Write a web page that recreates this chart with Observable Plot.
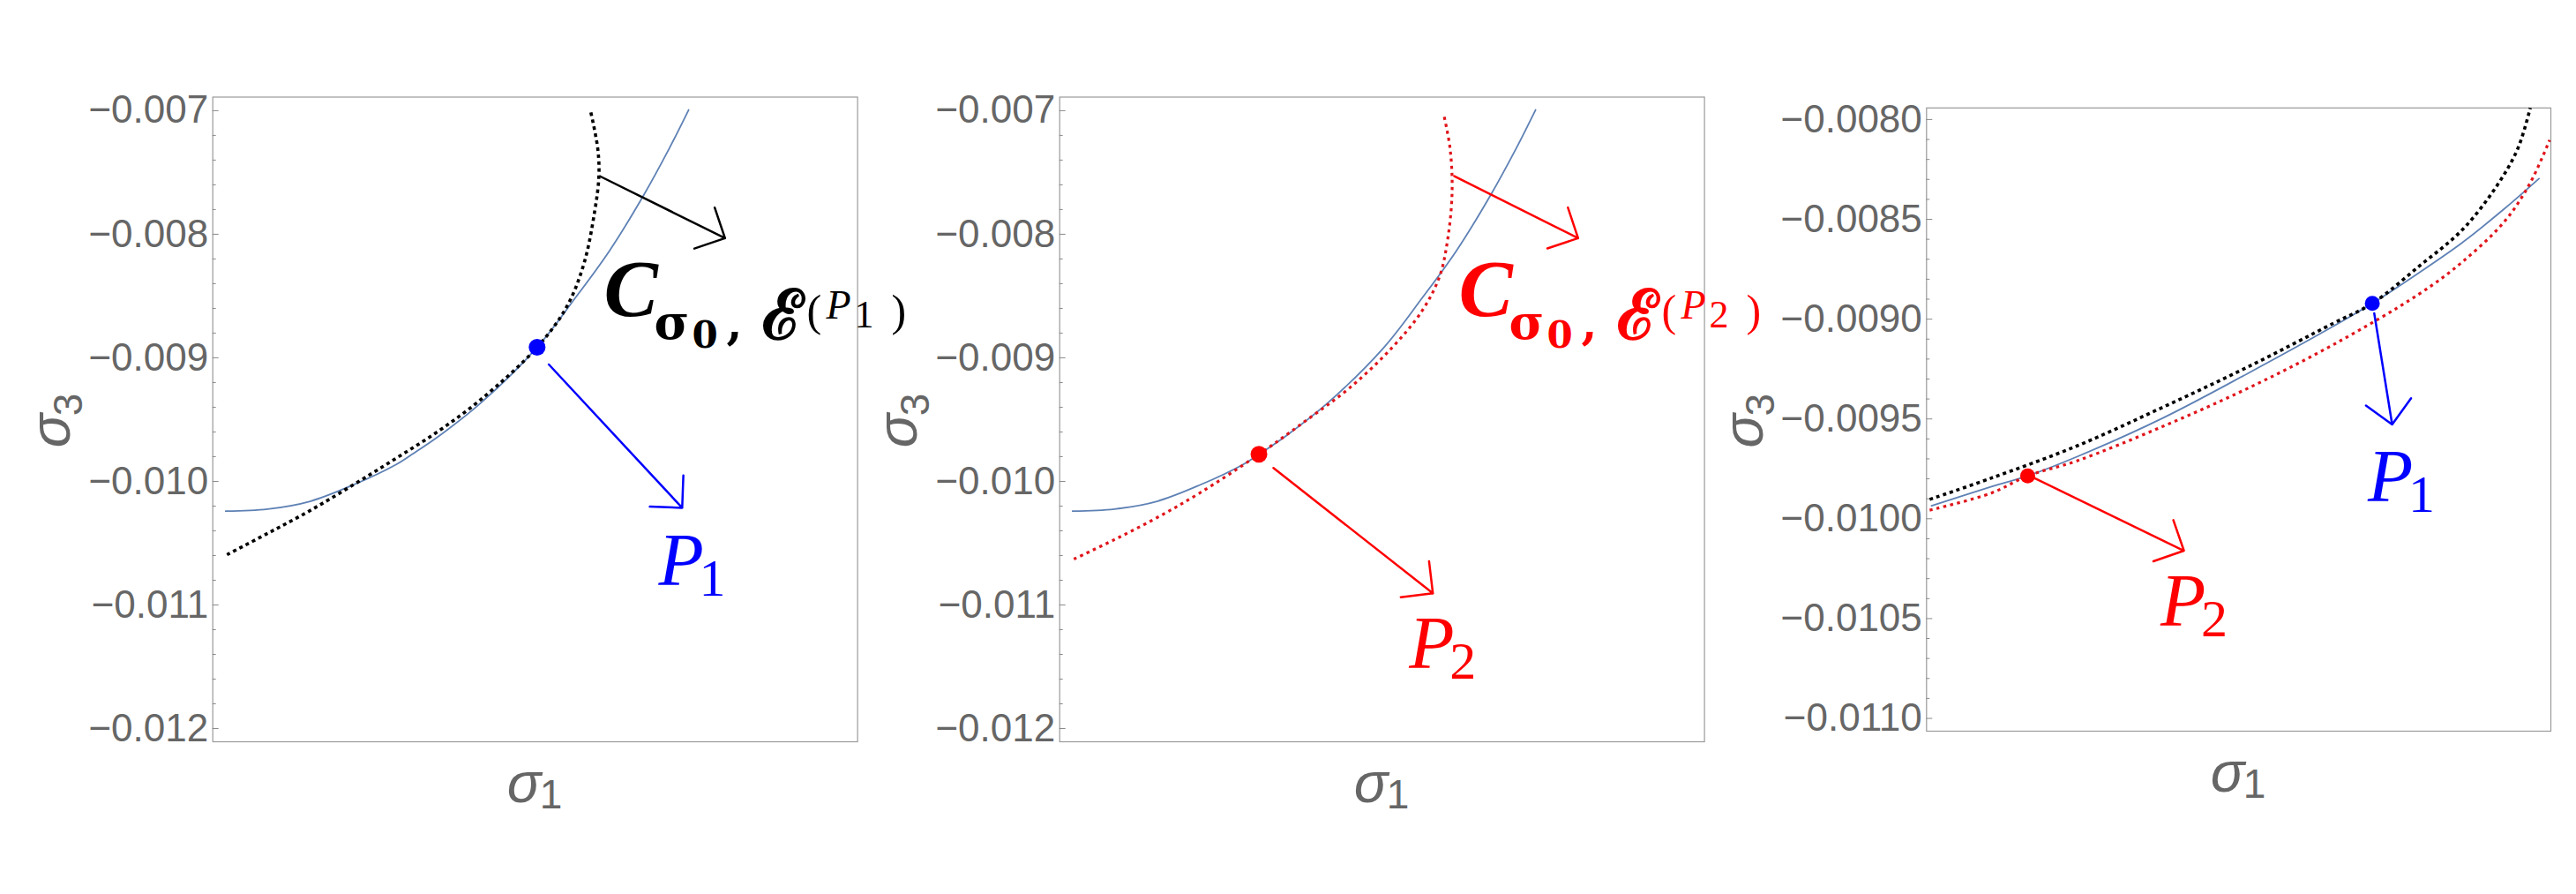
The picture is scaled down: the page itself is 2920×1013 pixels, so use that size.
<!DOCTYPE html>
<html>
<head>
<meta charset="utf-8">
<script src="https://cdn.jsdelivr.net/npm/d3@7"></script>
<script src="https://cdn.jsdelivr.net/npm/@observablehq/plot@0.6"></script>
<style>
html, body { margin: 0; padding: 0; background: #fff; }
#wrap { position: relative; width: 2920px; height: 1013px; overflow: hidden; background: #fff; }
#wrap svg { position: absolute; top: 0; overflow: visible; }
</style>
</head>
<body>
<div id="wrap"></div>
<script>
// ---------------- DATA ----------------
// sigma1 has no tick labels in the original: x is expressed as a fraction of each panel's range.
// Panels 1 & 2: sigma3 ticks
const majorTicksA = [-0.007, -0.008, -0.009, -0.010, -0.011, -0.012];
const minorTicksA = [-0.0072, -0.0074, -0.0076, -0.0078, -0.0082, -0.0084, -0.0086, -0.0088,
  -0.0092, -0.0094, -0.0096, -0.0098, -0.0102, -0.0104, -0.0106, -0.0108,
  -0.0112, -0.0114, -0.0116, -0.0118];
// Panel 3: sigma3 ticks
const majorTicksB = [-0.0080, -0.0085, -0.0090, -0.0095, -0.0100, -0.0105, -0.0110];
const minorTicksB = [-0.0081, -0.0082, -0.0083, -0.0084, -0.0086, -0.0087, -0.0088, -0.0089,
  -0.0091, -0.0092, -0.0093, -0.0094, -0.0096, -0.0097, -0.0098, -0.0099,
  -0.0101, -0.0102, -0.0103, -0.0104, -0.0106, -0.0107, -0.0108, -0.0109];

// Yield curve (panels 1 & 2)
const yieldCurveA = [[0.020, -0.010241], [0.085, -0.010224], [0.151, -0.010161], [0.2175, -0.010029],
  [0.284, -0.009864], [0.309, -0.009781], [0.350, -0.009636], [0.416, -0.009364], [0.503, -0.008915],
  [0.562, -0.008517], [0.615, -0.008136], [0.668, -0.007686], [0.708, -0.007305], [0.738, -0.006994]];
// C_{σ0, ε(P1)} (panel 1, black dotted)
const curveP1A = [[0.022, -0.010593], [0.085, -0.010421], [0.151, -0.010236], [0.2175, -0.010029],
  [0.284, -0.009814], [0.350, -0.009593], [0.416, -0.009336], [0.503, -0.008915], [0.549, -0.008586],
  [0.5755, -0.008240], [0.592, -0.007824], [0.5988, -0.007531], [0.597, -0.007305], [0.5855, -0.006994]];
// C_{σ0, ε(P2)} (panel 2, red dotted)
const curveP2A = [[0.022, -0.010629], [0.085, -0.010471], [0.151, -0.010293], [0.2175, -0.010093],
  [0.309, -0.009781], [0.383, -0.009504], [0.4495, -0.009244], [0.516, -0.008915], [0.562, -0.008620],
  [0.589, -0.008344], [0.602, -0.008032], [0.6086, -0.007651], [0.6054, -0.007305], [0.5955, -0.007028]];

// Panel 3 (zoomed)
const yieldCurveB = [[0.008, -0.009935], [0.104, -0.009839], [0.162, -0.009785], [0.241, -0.009689],
  [0.378, -0.009496], [0.515, -0.009271], [0.652, -0.009035], [0.714, -0.008921], [0.789, -0.008767],
  [0.858, -0.008617], [0.926, -0.008446], [0.981, -0.008296]];
const curveP1B = [[0.005, -0.009903], [0.104, -0.009796], [0.241, -0.009635], [0.378, -0.009442],
  [0.515, -0.009239], [0.652, -0.009020], [0.714, -0.008921], [0.789, -0.008735], [0.858, -0.008553],
  [0.912, -0.008339], [0.947, -0.008146], [0.967, -0.007942]];
const curveP2B = [[0.005, -0.009957], [0.104, -0.009871], [0.162, -0.009785], [0.241, -0.009710],
  [0.378, -0.009538], [0.515, -0.009346], [0.652, -0.009127], [0.789, -0.008874], [0.858, -0.008714],
  [0.926, -0.008510], [0.967, -0.008317], [0.998, -0.008103]];

// Points P1, P2
const pointP1A = [0.503, -0.008915];
const pointP2A = [0.309, -0.009781];
const pointP1B = [0.714, -0.008921];
const pointP2B = [0.162, -0.009785];

// Arrows [x1, y1, x2, y2]
const arrowCurve1 = [0.6006, -0.007531, 0.7944, -0.008032];
const arrowP1A = [0.5212, -0.009054, 0.728, -0.010214];
const arrowCurve2 = [0.612, -0.007530, 0.804, -0.008032];
const arrowP2A = [0.3315, -0.009891, 0.5788, -0.010906];
const arrowP2B = [0.1725, -0.009796, 0.4123, -0.010160];
const arrowP1B = [0.7171, -0.008971, 0.7458, -0.009528];

// Label anchors [x, y]
const labelPosC1 = [0.6064, -0.008664];
const labelPosC2 = [0.6187, -0.008664];
const labelPosP1A = [0.6913, -0.010836];
const labelPosP2A = [0.542, -0.011514];
const labelPosP1B = [0.7068, -0.009914];
const labelPosP2B = [0.3746, -0.010535];

// Label texts (pieces)
const textC1 = ["C", "σ", "0", ",", "ℰ", "(", "P", "1", ")"];
const textC2 = ["C", "σ", "0", ",", "ℰ", "(", "P", "2", ")"];
const textP1 = ["P", "1"];
const textP2 = ["P", "2"];
const textXTitle = ["σ", "1"];
const textYTitle = ["σ", "3"];

// ---------------- STYLES ----------------
const BLUEGREY = "#5e81b5", BLUE = "#0000ff", RED = "#ff0000", REDDOT = "#e0151b", GREY = "#666666";
const styleC = [
  {x: 0, y: 0, size: 92, weight: "bold", style: "italic", family: "Liberation Serif"},
  {x: 57, y: 26, size: 54, weight: "bold", family: "DejaVu Serif"},
  {x: 100, y: 36, size: 42, weight: "bold", family: "DejaVu Serif"},
  {x: 139, y: 26, size: 52, weight: "bold", family: "DejaVu Serif"},
  {x: 180, y: 26, size: 78, weight: "bold", family: "DejaVu Serif"},
  {x: 230, y: 11, size: 50, family: "Liberation Serif"},
  {x: 252, y: 3, size: 46, style: "italic", family: "Liberation Serif"},
  {x: 284, y: 13, size: 44, family: "Liberation Serif"},
  {x: 326, y: 11, size: 50, family: "Liberation Serif"}
];
const styleP = [
  {x: 0, y: 0, size: 84, style: "italic", family: "Liberation Serif"},
  {x: 46, y: 12, size: 60, family: "Liberation Serif"}
];
const styleXTitle = [
  {x: -32, y: 68, size: 64, style: "italic", family: "Liberation Sans"},
  {x: 5, y: 75, size: 46, family: "Liberation Sans"}
];
const styleYTitleA = [
  {x: -32, y: -162.7, size: 64, style: "italic", family: "Liberation Sans"},
  {x: 4, y: -148.7, size: 46, family: "Liberation Sans"}
];
const styleYTitleB = [
  {x: -32, y: -186, size: 64, style: "italic", family: "Liberation Sans"},
  {x: 4, y: -173, size: 46, family: "Liberation Sans"}
];

// render hook: turn a text mark into positioned tspans (sub/superscripts)
const SVGNS = "http://www.w3.org/2000/svg";
function rich(pieces, styles) {
  return function (index, scales, values, dimensions, context, next) {
    const g = next(index, scales, values, dimensions, context);
    for (const t of g.querySelectorAll("text")) {
      t.removeAttribute("y");
      t.textContent = "";
      pieces.forEach((p, i) => {
        const s = styles[i];
        const ts = document.createElementNS(SVGNS, "tspan");
        ts.setAttribute("x", s.x);
        ts.setAttribute("y", s.y);
        ts.setAttribute("font-size", s.size);
        if (s.weight) ts.setAttribute("font-weight", s.weight);
        if (s.style) ts.setAttribute("font-style", s.style);
        if (s.family) ts.setAttribute("font-family", s.family);
        ts.textContent = p;
        t.appendChild(ts);
      });
    }
    return g;
  };
}

function richLabel(pos, pieces, styles, color) {
  return Plot.text([pos], {
    x: d => d[0], y: d => d[1], text: () => pieces.join(""),
    fill: color, textAnchor: "start", lineAnchor: "bottom",
    render: rich(pieces, styles)
  });
}
function line(data, color, width, dash) {
  return Plot.line(data, {x: d => d[0], y: d => d[1], stroke: color, strokeWidth: width,
    strokeDasharray: dash, strokeLinecap: dash ? "butt" : "round", curve: "catmull-rom"});
}
function arrow(a, color) {
  return Plot.arrow([a], {x1: d => d[0], y1: d => d[1], x2: d => d[2], y2: d => d[3],
    stroke: color, strokeWidth: 2.5, headLength: 22, headAngle: 90});
}
function dot(p, color, r) {
  return Plot.dot([p], {x: d => d[0], y: d => d[1], r, fill: color, stroke: null});
}

function panel(cfg) {
  return Plot.plot({
    width: 1000, height: 1013,
    marginLeft: cfg.ml, marginRight: cfg.mr, marginTop: cfg.mt, marginBottom: cfg.mb,
    x: {domain: [0, 1], axis: null},
    y: {domain: cfg.yDomain, axis: null},
    style: {overflow: "visible", background: "transparent", fontFamily: "Liberation Sans"},
    marks: [
      Plot.frame({stroke: "#9a9a9a", strokeWidth: 1.2}),
      Plot.axisY(cfg.minor, {tickSize: -4, tickFormat: () => "", color: "#8a8a8a", label: null}),
      Plot.axisY(cfg.major, {tickSize: -7, tickFormat: () => "", color: "#8a8a8a", label: null}),
      Plot.axisY(cfg.major, {tickSize: 0, tickPadding: 5, tickFormat: cfg.fmt, color: GREY,
        fontSize: 44, label: null}),
      ...cfg.marks,
      Plot.text([0], {frameAnchor: "bottom", text: () => textXTitle.join(""), fill: GREY,
        textAnchor: "start", lineAnchor: "bottom", render: rich(textXTitle, styleXTitle)}),
      Plot.text([0], {frameAnchor: "left", rotate: -90, text: () => textYTitle.join(""), fill: GREY,
        textAnchor: "start", lineAnchor: "bottom", render: rich(textYTitle, cfg.yTitleStyle)})
    ]
  });
}

const fmtA = d3.format(".3f");
const fmtB = d3.format(".4f");
const DOT_BLACK = "4,4", DOT_RED = "3.5,4.5";

const p1 = panel({
  ml: 240.7, mr: 28.4, mt: 109.5, mb: 173, yDomain: [-0.012107, -0.00689],
  major: majorTicksA, minor: minorTicksA, fmt: fmtA, yTitleStyle: styleYTitleA,
  marks: [
    line(yieldCurveA, BLUEGREY, 1.8),
    line(curveP1A, "#000", 3.6, DOT_BLACK),
    arrow(arrowCurve1, "#000"),
    arrow(arrowP1A, BLUE),
    dot(pointP1A, BLUE, 9.5),
    richLabel(labelPosC1, textC1, styleC, "#000"),
    richLabel(labelPosP1A, textP1, styleP, BLUE)
  ]
});
const p2 = panel({
  ml: 240.7, mr: 28.4, mt: 109.5, mb: 173, yDomain: [-0.012107, -0.00689],
  major: majorTicksA, minor: minorTicksA, fmt: fmtA, yTitleStyle: styleYTitleA,
  marks: [
    line(yieldCurveA, BLUEGREY, 1.8),
    line(curveP2A, REDDOT, 3.2, DOT_RED),
    arrow(arrowCurve2, RED),
    arrow(arrowP2A, RED),
    dot(pointP2A, RED, 9.5),
    richLabel(labelPosC2, textC2, styleC, RED),
    richLabel(labelPosP2A, textP2, styleP, RED)
  ]
});
const p3 = panel({
  ml: 263.3, mr: 29, mt: 121.8, mb: 185, yDomain: [-0.011064, -0.007942],
  major: majorTicksB, minor: minorTicksB, fmt: fmtB, yTitleStyle: styleYTitleB,
  marks: [
    line(yieldCurveB, BLUEGREY, 1.8),
    line(curveP1B, "#000", 3.6, DOT_BLACK),
    line(curveP2B, REDDOT, 3.2, DOT_RED),
    arrow(arrowP2B, RED),
    arrow(arrowP1B, BLUE),
    dot(pointP2B, RED, 8.5),
    dot(pointP1B, BLUE, 8.5),
    richLabel(labelPosP1B, textP1, styleP, BLUE),
    richLabel(labelPosP2B, textP2, styleP, RED)
  ]
});

const wrap = document.getElementById("wrap");
[[p1, 0], [p2, 960], [p3, 1920]].forEach(([svg, left]) => {
  svg.style.left = left + "px";
  wrap.appendChild(svg);
});
</script>
</body>
</html>
